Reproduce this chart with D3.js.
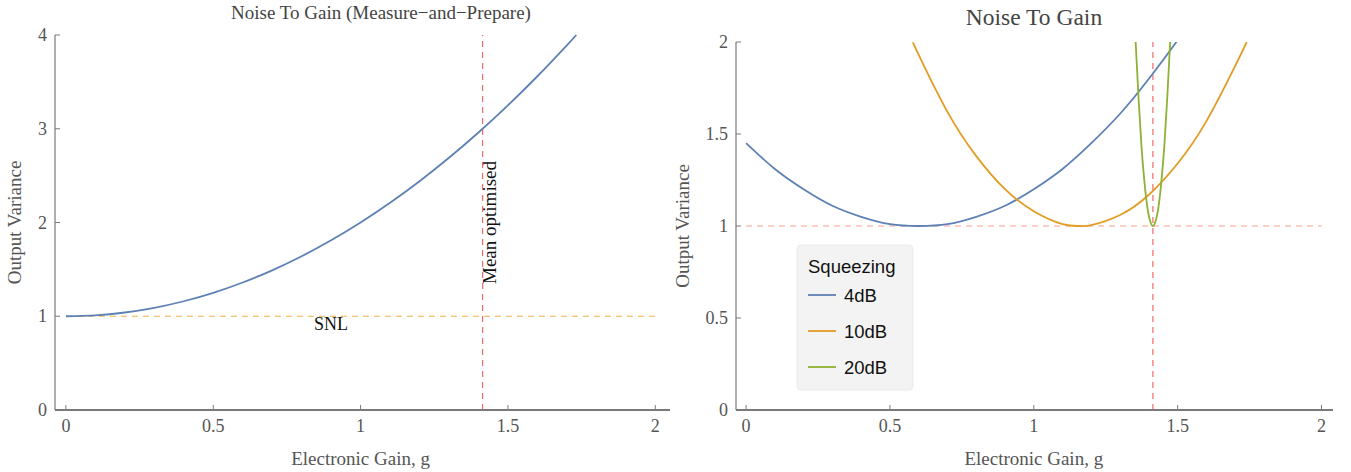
<!DOCTYPE html>
<html>
<head>
<meta charset="utf-8">
<script src="https://cdn.jsdelivr.net/npm/d3@7"></script>
<style>
  body { margin: 0; background: #fff; }
</style>
</head>
<body>
<svg id="chart" width="1351" height="472"></svg>
<script>
// left panel: measure-and-prepare
const mpGain = [0, 0.1, 0.2, 0.3, 0.4, 0.5, 0.6, 0.7, 0.8, 0.9, 1.0, 1.1, 1.2, 1.3, 1.4, 1.5, 1.6, 1.7, 1.732];
const mpVar  = [1, 1.01, 1.04, 1.09, 1.16, 1.25, 1.36, 1.49, 1.64, 1.81, 2.0, 2.21, 2.44, 2.69, 2.96, 3.25, 3.56, 3.89, 4.0];

// right panel: squeezing curves
const sq4Gain  = [0, 0.1, 0.2, 0.3, 0.4, 0.5, 0.6, 0.7, 0.8, 0.9, 1.0, 1.1, 1.2, 1.3, 1.4, 1.5, 1.52];
const sq4Var   = [1.45, 1.31, 1.20, 1.11, 1.05, 1.01, 1.0, 1.01, 1.05, 1.11, 1.20, 1.31, 1.45, 1.61, 1.80, 2.01, 2.06];
const sq10Gain = [0.58, 0.6, 0.7, 0.8, 0.9, 1.0, 1.1, 1.16, 1.2, 1.3, 1.4, 1.5, 1.6, 1.7, 1.74];
const sq10Var  = [2.0, 1.93, 1.62, 1.38, 1.20, 1.08, 1.01, 1.0, 1.005, 1.06, 1.17, 1.34, 1.57, 1.87, 2.0];
const sq20Gain = [1.354, 1.364, 1.374, 1.384, 1.394, 1.404, 1.414, 1.424, 1.434, 1.444, 1.454, 1.464, 1.474];
const sq20Var  = [2.0, 1.70, 1.44, 1.25, 1.11, 1.03, 1.0, 1.03, 1.11, 1.25, 1.44, 1.70, 2.0];

const legendLabels = ["4dB", "10dB", "20dB"];
const colors = ["#5e81b5", "#e19c24", "#8fb032"];
const optGain = 1.414;

const xTicks = [0, 0.5, 1, 1.5, 2];
const leftYTicks = [0, 1, 2, 3, 4];
const rightYTicks = [0, 0.5, 1, 1.5, 2];

const svg = d3.select("#chart");
const serif = "'Liberation Serif', 'Times New Roman', serif";
const sans = "'Liberation Sans', Arial, sans-serif";
const axisColor = "#7a7a7a";
const labelColor = "#555";

function zip(xs, ys) { return xs.map((x, i) => ({x: x, y: ys[i]})); }

function drawFrame(g, x, y, yTicks) {
    const [x0, x1] = x.range();
    const [y0, y1] = y.range();
    g.append("line").attr("x1", x0).attr("x2", x1).attr("y1", y0).attr("y2", y0)
        .attr("stroke", axisColor).attr("stroke-width", 2);
    g.append("line").attr("x1", x0).attr("x2", x0).attr("y1", y0).attr("y2", y1)
        .attr("stroke", axisColor).attr("stroke-width", 1.2);

    let xt = g.selectAll(".xt").data(xTicks).enter();
    xt.append("line")
        .attr("x1", d => x(d)).attr("x2", d => x(d))
        .attr("y1", y0).attr("y2", y0 - 5)
        .attr("stroke", axisColor);
    xt.append("text")
        .attr("x", d => x(d)).attr("y", y0 + 22)
        .attr("text-anchor", "middle")
        .style("font-family", serif).style("font-size", "18px").attr("fill", labelColor)
        .text(d => d);

    let yt = g.selectAll(".yt").data(yTicks).enter();
    yt.append("line")
        .attr("x1", x0).attr("x2", x0 + 5)
        .attr("y1", d => y(d)).attr("y2", d => y(d))
        .attr("stroke", axisColor);
    yt.append("text")
        .attr("x", x0 - 8).attr("y", d => y(d) + 6)
        .attr("text-anchor", "end")
        .style("font-family", serif).style("font-size", "18px").attr("fill", labelColor)
        .text(d => d);
}

function axisTitles(g, x, y, title, titleX, titleY, titleSize, ylabX) {
    const [y0, y1] = y.range();
    g.append("text").attr("x", titleX).attr("y", titleY)
        .attr("text-anchor", "middle")
        .style("font-family", serif).style("font-size", titleSize + "px").attr("fill", "#444")
        .text(title);
    g.append("text").attr("x", x(1)).attr("y", 465)
        .attr("text-anchor", "middle")
        .style("font-family", serif).style("font-size", "19px").attr("fill", labelColor)
        .text("Electronic Gain, g");
    g.append("text")
        .attr("transform", `translate(${ylabX},${(y0 + y1) / 2}) rotate(-90)`)
        .attr("text-anchor", "middle")
        .style("font-family", serif).style("font-size", "19px").attr("fill", labelColor)
        .text("Output Variance");
}

const line = (x, y) => d3.line().x(d => x(d.x)).y(d => y(d.y)).curve(d3.curveNatural);

// ---- left panel ----
const xL = d3.scaleLinear().domain([-0.037, 2.05]).range([55, 670]);
const yL = d3.scaleLinear().domain([0, 4]).range([410, 35]);
const gL = svg.append("g");

gL.append("line")
    .attr("x1", xL(0)).attr("x2", xL(2)).attr("y1", yL(1)).attr("y2", yL(1))
    .attr("stroke", "#f0b24a").attr("stroke-width", 1.2).attr("stroke-dasharray", "6,5");
gL.append("line")
    .attr("x1", xL(optGain)).attr("x2", xL(optGain)).attr("y1", yL(0)).attr("y2", yL(4))
    .attr("stroke", "#f26a6a").attr("stroke-width", 1.2).attr("stroke-dasharray", "6,5");

gL.append("path").datum(zip(mpGain, mpVar))
    .attr("d", line(xL, yL))
    .attr("fill", "none").attr("stroke", colors[0]).attr("stroke-width", 1.8);

drawFrame(gL, xL, yL, leftYTicks);
axisTitles(gL, xL, yL, "Noise To Gain (Measure\u2212and\u2212Prepare)", 381, 19, 19, 21);

gL.append("text")
    .attr("transform", `translate(${xL(optGain) + 13},${yL(2)}) rotate(-90)`)
    .attr("text-anchor", "middle")
    .style("font-family", serif).style("font-size", "19px").attr("fill", "#111")
    .text("Mean optimised");
gL.append("text").attr("x", xL(0.9)).attr("y", yL(1) + 14)
    .attr("text-anchor", "middle")
    .style("font-family", serif).style("font-size", "18px").attr("fill", "#111")
    .text("SNL");

// ---- right panel ----
const xR = d3.scaleLinear().domain([-0.035, 2.04]).range([736, 1333]);
const yR = d3.scaleLinear().domain([0, 2]).range([410, 42]);
const gR = svg.append("g");

gR.append("line")
    .attr("x1", xR(0)).attr("x2", xR(2)).attr("y1", yR(1)).attr("y2", yR(1))
    .attr("stroke", "#f7a08c").attr("stroke-width", 1.2).attr("stroke-dasharray", "6,5");
gR.append("line")
    .attr("x1", xR(optGain)).attr("x2", xR(optGain)).attr("y1", yR(0)).attr("y2", yR(2))
    .attr("stroke", "#f26a6a").attr("stroke-width", 1.2).attr("stroke-dasharray", "6,5");

gR.append("clipPath").attr("id", "clipR").append("rect")
    .attr("x", xR.range()[0]).attr("y", yR(2)).attr("width", xR.range()[1] - xR.range()[0])
    .attr("height", yR(0) - yR(2));

const series = [zip(sq4Gain, sq4Var), zip(sq10Gain, sq10Var), zip(sq20Gain, sq20Var)];
gR.append("g").attr("clip-path", "url(#clipR)")
    .selectAll("path").data(series).enter()
    .append("path")
    .attr("d", line(xR, yR))
    .attr("fill", "none")
    .attr("stroke", (d, i) => colors[i])
    .attr("stroke-width", 1.8);

drawFrame(gR, xR, yR, rightYTicks);
axisTitles(gR, xR, yR, "Noise To Gain", 1034, 25, 23.5, 689);

// legend
const lg = gR.append("g").attr("transform", "translate(797,245)");
lg.append("rect").attr("width", 116).attr("height", 145).attr("rx", 4)
    .attr("fill", "#f3f3f3").attr("stroke", "#ebebeb");
lg.append("text").attr("x", 11).attr("y", 28)
    .style("font-family", sans).style("font-size", "18.5px").attr("fill", "#111")
    .text("Squeezing");
let items = lg.selectAll(".li").data(legendLabels).enter().append("g")
    .attr("transform", (d, i) => `translate(0,${50 + i * 36})`);
items.append("line").attr("x1", 11).attr("x2", 39).attr("y1", 0).attr("y2", 0)
    .attr("stroke", (d, i) => colors[i]).attr("stroke-width", 1.8);
items.append("text").attr("x", 47).attr("y", 6.5)
    .style("font-family", sans).style("font-size", "18.5px").attr("fill", "#111")
    .text(d => d);
</script>
</body>
</html>
